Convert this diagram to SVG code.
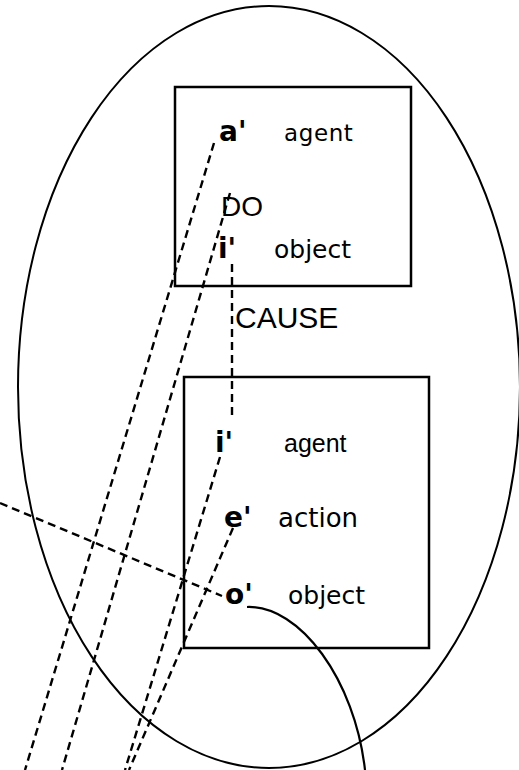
<svg xmlns="http://www.w3.org/2000/svg" width="519" height="770" viewBox="0 0 519 770">
<style>
.frame{fill:none;stroke:#000;stroke-width:2}
.box{fill:none;stroke:#000;stroke-width:2.5}
.dash{fill:none;stroke:#000;stroke-width:2.4;stroke-dasharray:8,5}
.solid{fill:none;stroke:#000;stroke-width:2.2}
.var{font-family:"DejaVu Sans",sans-serif;font-weight:bold;font-size:28px;fill:#000}
.word{font-family:"DejaVu Sans",sans-serif;font-size:25px;fill:#000}
.lab{font-family:"Liberation Sans",Arial,sans-serif;fill:#000}
</style>
<rect width="519" height="770" fill="#fff"/>
<g id="outer">
<ellipse class="frame" cx="269" cy="387" rx="251" ry="381"/>
</g>
<g id="cause-box">
<rect class="box" x="175" y="87" width="236" height="199"/>
<text class="var" x="219" y="141">a'</text>
<text class="word" x="284" y="141" style="font-size:23px;letter-spacing:0.6px">agent</text>
<text class="lab" x="221" y="216" style="font-size:28px">DO</text>
<text class="var" x="218" y="258">i'</text>
<text class="word" x="274" y="258">object</text>
</g>
<g id="cause-label">
<text class="lab" x="235" y="328" style="font-size:30px">CAUSE</text>
</g>
<g id="effect-box">
<rect class="box" x="184" y="377" width="245" height="271"/>
<text class="var" x="215" y="452">i'</text>
<text class="lab" x="284" y="452" style="font-size:25px">agent</text>
<text class="var" x="224" y="527">e'</text>
<text class="word" x="278" y="527" style="font-size:26px">action</text>
<text class="var" x="225" y="604">o'</text>
<text class="word" x="288" y="604">object</text>
</g>
<g id="connectors">
<line class="dash" x1="214" y1="143" x2="25" y2="770"/>
<line class="dash" x1="230" y1="193" x2="62" y2="770"/>
<line class="dash" x1="220" y1="457" x2="125" y2="770"/>
<line class="dash" x1="233" y1="528" x2="129" y2="770"/>
<line class="dash" x1="0" y1="503" x2="222" y2="596"/>
<line class="dash" x1="232" y1="264" x2="232" y2="420"/>
<path class="solid" d="M247,607 C300,605 355,680 365,770"/>
</g>
</svg>
